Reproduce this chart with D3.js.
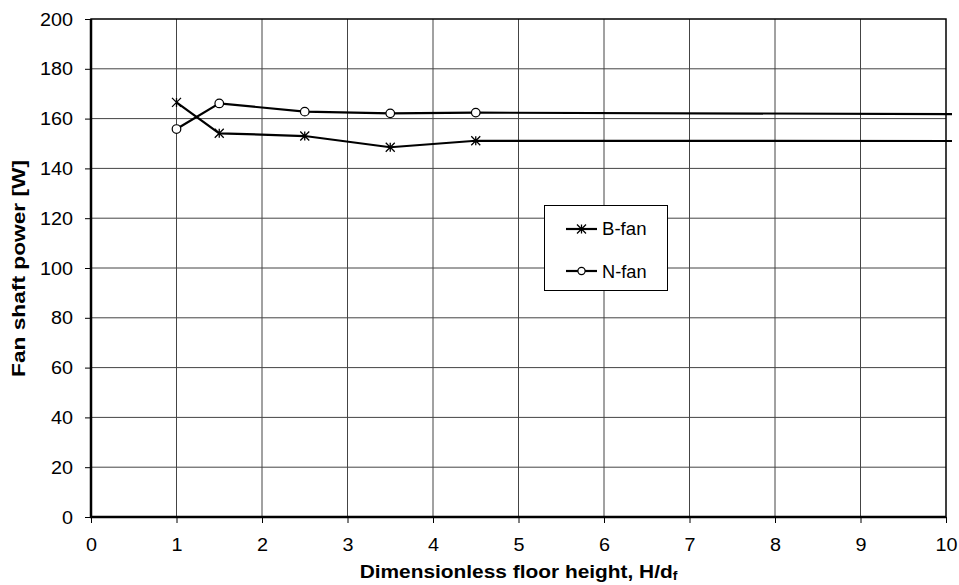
<!DOCTYPE html>
<html><head><meta charset="utf-8">
<script src="https://cdn.jsdelivr.net/npm/d3@7"></script>
<style>body{margin:0;background:#fff}svg{display:block;font-family:"Liberation Sans",Arial,sans-serif}</style>
</head><body>
<svg id="c" width="959" height="585"></svg>
<script>
const xValues = [1, 1.5, 2.5, 3.5, 4.5];
const bFan = [166.5, 154.1, 153.0, 148.5, 151.1];
const nFan = [155.8, 166.1, 162.8, 162.1, 162.4];
const tailX = 10.07;
const bTail = 151.0;
const nTail = 161.8;
const xTicks = [0,1,2,3,4,5,6,7,8,9,10];
const yTicks = [0,20,40,60,80,100,120,140,160,180,200];

const svg = d3.select("#c");
const L = 91, R = 946, T = 19, B = 517;
const x = d3.scaleLinear().domain([0,10]).range([L,R]);
const y = d3.scaleLinear().domain([0,200]).range([B,T]);
const FONT = "Liberation Sans, Arial, sans-serif";

function stretch(sel, k){
  sel.each(function(){
    const w = this.getComputedTextLength();
    d3.select(this).attr("textLength", w*k).attr("lengthAdjust","spacingAndGlyphs");
  });
}

// grid
svg.append("g").selectAll("line").data(xTicks.slice(1,-1)).join("line")
  .attr("x1",d=>x(d)).attr("x2",d=>x(d)).attr("y1",T).attr("y2",B)
  .attr("stroke","#444").attr("stroke-width",1);
svg.append("g").selectAll("line").data(yTicks.slice(1,-1)).join("line")
  .attr("x1",L).attr("x2",R).attr("y1",d=>y(d)).attr("y2",d=>y(d))
  .attr("stroke","#444").attr("stroke-width",1);

// axes
const xa = svg.append("g").attr("transform",`translate(0,${B})`)
  .call(d3.axisBottom(x).tickValues(xTicks).tickSize(6).tickPadding(8).tickFormat(d3.format("d")));
const ya = svg.append("g").attr("transform",`translate(${L},0)`)
  .call(d3.axisLeft(y).tickValues(yTicks).tickSize(6).tickPadding(12).tickFormat(d3.format("d")));
[xa,ya].forEach(a=>{
  a.select(".domain").remove();
  a.selectAll("line").attr("stroke","#000");
  a.selectAll("text").attr("font-size",17.5).attr("fill","#000").attr("font-family",FONT);
  stretch(a.selectAll("text"), 1.13);
});
xa.selectAll("text").attr("dy",null).attr("y",34);
ya.selectAll("text").attr("dy",null).attr("y",6);

// frame
svg.append("rect").attr("x",L).attr("y",T).attr("width",R-L).attr("height",B-T)
  .attr("fill","none").attr("stroke","#000").attr("stroke-width",1.5);
svg.append("line").attr("x1",L).attr("x2",L).attr("y1",T).attr("y2",B+1).attr("stroke","#000").attr("stroke-width",2.5);
svg.append("line").attr("x1",L-1).attr("x2",R).attr("y1",B).attr("y2",B).attr("stroke","#000").attr("stroke-width",2.5);

// series
const line = d3.line().x(d=>x(d[0])).y(d=>y(d[1]));
const bPts = xValues.map((v,i)=>[v,bFan[i]]).concat([[tailX,bTail]]);
const nPts = xValues.map((v,i)=>[v,nFan[i]]).concat([[tailX,nTail]]);
svg.append("path").attr("d",line(bPts)).attr("fill","none").attr("stroke","#000").attr("stroke-width",2.2);
svg.append("path").attr("d",line(nPts)).attr("fill","none").attr("stroke","#000").attr("stroke-width",2.2);

function star(g,cx,cy,s){
  g.append("path").attr("d",`M${cx-s},${cy-s}L${cx+s},${cy+s}M${cx-s},${cy+s}L${cx+s},${cy-s}M${cx},${cy-s}L${cx},${cy+s}`)
    .attr("stroke","#000").attr("stroke-width",1.3).attr("fill","none");
}
const mg = svg.append("g");
xValues.forEach((v,i)=>star(mg,x(v),y(bFan[i]),4.5));
mg.selectAll("circle").data(xValues.map((v,i)=>[v,nFan[i]])).join("circle")
  .attr("cx",d=>x(d[0])).attr("cy",d=>y(d[1])).attr("r",4.3)
  .attr("fill","#fff").attr("stroke","#000").attr("stroke-width",1.2);

// legend
const lg = svg.append("g");
lg.append("rect").attr("x",544.5).attr("y",205.5).attr("width",123).attr("height",85)
  .attr("fill","#fff").attr("stroke","#000").attr("stroke-width",1);
lg.append("line").attr("x1",566).attr("x2",597).attr("y1",229).attr("y2",229).attr("stroke","#000").attr("stroke-width",2.2);
star(lg,581.5,229,4.5);
lg.append("text").attr("x",602).attr("y",235).attr("font-size",17.5).attr("textLength",44.5).attr("lengthAdjust","spacingAndGlyphs").text("B-fan");
lg.append("line").attr("x1",566).attr("x2",597).attr("y1",271).attr("y2",271).attr("stroke","#000").attr("stroke-width",2.2);
lg.append("circle").attr("cx",581.5).attr("cy",271).attr("r",3.6).attr("fill","#fff").attr("stroke","#000").attr("stroke-width",1.2);
lg.append("text").attr("x",602).attr("y",277.5).attr("font-size",17.5).attr("textLength",44.5).attr("lengthAdjust","spacingAndGlyphs").text("N-fan");

// axis titles
const xt = svg.append("text").attr("text-anchor","middle")
  .attr("font-size",18).attr("font-weight","bold");
xt.append("tspan").text("Dimensionless floor height, H/d");
xt.append("tspan").attr("font-size",12).attr("dy",2.5).text("f");
const xw = xt.node().getBBox().width;
xt.attr("transform",`translate(518.5,577.5) scale(${319/xw},1)`);

const yt = svg.append("text").attr("text-anchor","middle")
  .attr("font-size",18).attr("font-weight","bold").text("Fan shaft power [W]");
const yw = yt.node().getBBox().width;
yt.attr("transform",`translate(24.5,268.5) rotate(-90) scale(${217/yw},1)`);
</script>
</body></html>
